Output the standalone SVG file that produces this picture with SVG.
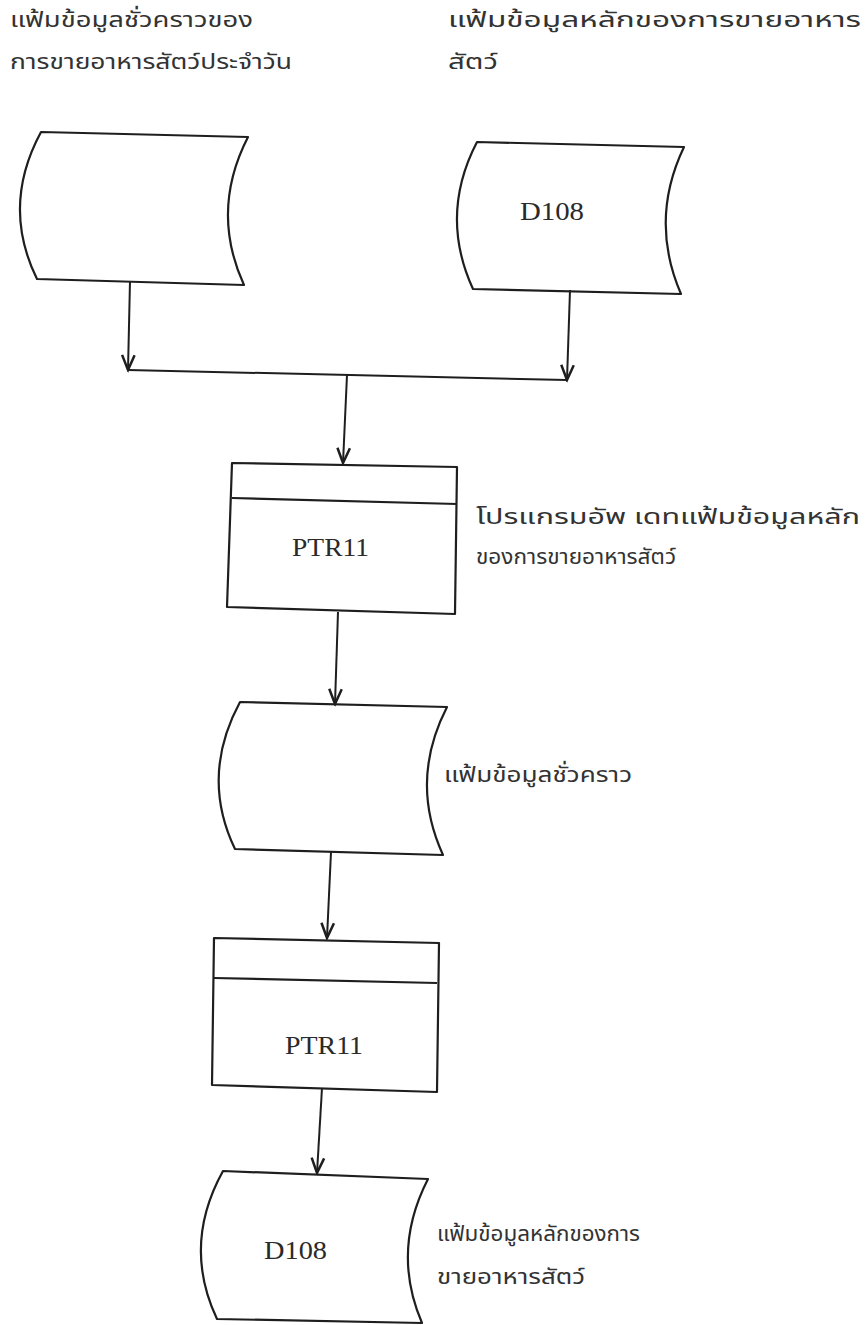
<svg xmlns="http://www.w3.org/2000/svg" width="866" height="1325" viewBox="0 0 866 1325">
<style>
.shape{fill:none;stroke:#1e1e1e;stroke-width:2.2;stroke-linejoin:round}
.conn{fill:none;stroke:#1e1e1e;stroke-width:2}
.th{font-family:"Noto Sans Thai","Noto Sans","DejaVu Sans",sans-serif;font-size:22px;fill:#333333}
.lbl{font-family:"Liberation Serif",serif;font-size:26px;fill:#2a2a2a}
</style>
<defs>
<marker id="v" markerUnits="userSpaceOnUse" markerWidth="20" markerHeight="20" viewBox="-14 -8 16 16" refX="0" refY="0" orient="auto">
<path d="M-12,-5 L0,0 L-12,5" fill="none" stroke="#1e1e1e" stroke-width="2"/>
</marker>
</defs>
<rect width="866" height="1325" fill="#ffffff"/>

<g id="labels">
<text class="th" x="10" y="27" textLength="243" lengthAdjust="spacingAndGlyphs">แฟ้มข้อมูลชั่วคราวของ</text>
<text class="th" x="10" y="69" textLength="282" lengthAdjust="spacingAndGlyphs">การขายอาหารสัตว์ประจำวัน</text>
<text class="th" x="448" y="27" textLength="413" lengthAdjust="spacingAndGlyphs">แฟ้มข้อมูลหลักของการขายอาหาร</text>
<text class="th" x="448" y="69" textLength="50" lengthAdjust="spacingAndGlyphs">สัตว์</text>
<text class="th" x="476" y="524" textLength="384" lengthAdjust="spacingAndGlyphs">โปรแกรมอัพ เดทแฟ้มข้อมูลหลัก</text>
<text class="th" x="476" y="564" textLength="200" lengthAdjust="spacingAndGlyphs">ของการขายอาหารสัตว์</text>
<text class="th" x="444" y="782" textLength="188" lengthAdjust="spacingAndGlyphs">แฟ้มข้อมูลชั่วคราว</text>
<text class="th" x="437" y="1241" textLength="203" lengthAdjust="spacingAndGlyphs">แฟ้มข้อมูลหลักของการ</text>
<text class="th" x="437" y="1284" textLength="148" lengthAdjust="spacingAndGlyphs">ขายอาหารสัตว์</text>
</g>

<g id="file-daily">
<path class="shape" d="M41,132 L248,137 Q210,211 244,285 L37,279 Q1,206 41,132 Z"/>
</g>

<g id="file-d108-in">
<path class="shape" d="M477,142 L684,147 Q649,220 681,294 L473,289 Q439,215 477,142 Z"/>
<text class="lbl" x="520" y="220" textLength="64" lengthAdjust="spacingAndGlyphs">D108</text>
</g>

<g id="proc-ptr11-a">
<path class="shape" d="M232,463 L457,467 L455,614 L227,607 Z"/>
<path class="shape" d="M232,498 L457,504"/>
<text class="lbl" x="292" y="556" textLength="77" lengthAdjust="spacingAndGlyphs">PTR11</text>
</g>

<g id="file-temp">
<path class="shape" d="M240,702 L447,707 Q409,781 443,855 L235,849 Q200,776 240,702 Z"/>
</g>

<g id="proc-ptr11-b">
<path class="shape" d="M214,938 L439,943 L437,1092 L212,1085 Z"/>
<path class="shape" d="M214,978 L437,983"/>
<text class="lbl" x="285" y="1054" textLength="78" lengthAdjust="spacingAndGlyphs">PTR11</text>
</g>

<g id="file-d108-out">
<path class="shape" d="M223,1171 L428,1179 Q391,1251 422,1323 L217,1319 Q182,1245 223,1171 Z"/>
<text class="lbl" x="264" y="1259" textLength="63" lengthAdjust="spacingAndGlyphs">D108</text>
</g>

<g id="connectors">
<path class="conn" d="M130,281 L128,370" marker-end="url(#v)"/>
<path class="conn" d="M570,290 L567,380" marker-end="url(#v)"/>
<path class="conn" d="M128,370 L567,380"/>
<path class="conn" d="M347,375 L343,463" marker-end="url(#v)"/>
<path class="conn" d="M338,612 L335,704" marker-end="url(#v)"/>
<path class="conn" d="M331,852 L327,938" marker-end="url(#v)"/>
<path class="conn" d="M322,1088 L317,1173" marker-end="url(#v)"/>
</g>
</svg>
